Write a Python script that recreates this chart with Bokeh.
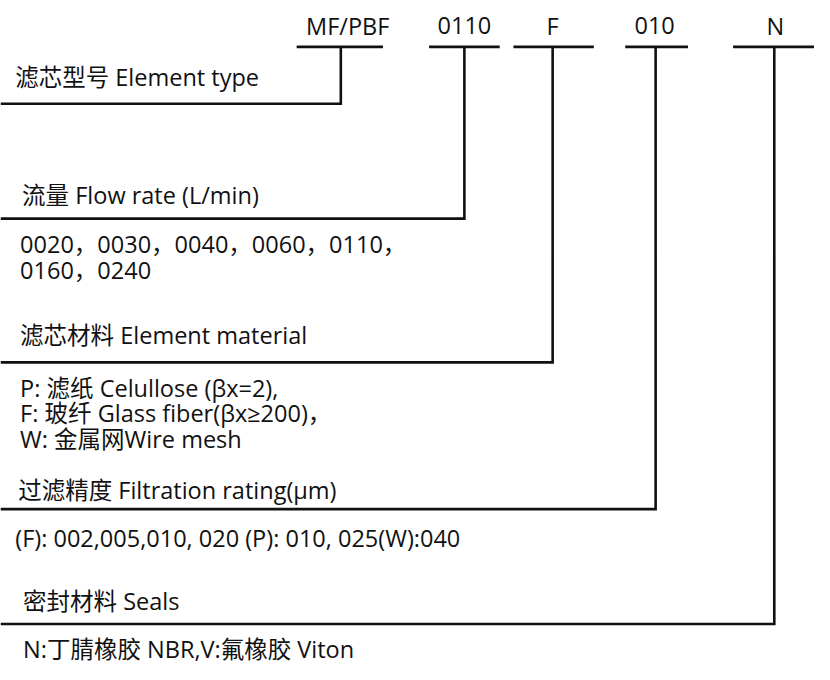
from bokeh.plotting import figure
from bokeh.models import Range1d
from bokeh.core.properties import value
from bokeh.embed import file_html
from bokeh.resources import INLINE

# ---- content ----
codes = ["MF/PBF", "0110", "F", "010", "N"]
labels = ["滤芯型号 Element type",
          "流量 Flow rate (L/min)",
          "滤芯材料 Element material",
          "过滤精度  Filtration rating(μm)",
          "密封材料 Seals"]
option_lines = ["0020，0030，0040，0060，0110，",
                "0160，0240",
                "P: 滤纸 Celullose (βx=2),",
                "F: 玻纤 Glass fiber(βx≥200)，",
                "W: 金属网Wire mesh",
                "(F): 002,005,010, 020 (P): 010, 025(W):040",
                "N:丁腈橡胶 NBR,V:氟橡胶 Viton"]

# ---- layout (reference pixel coordinates) ----
code_x = [354, 473, 563, 667, 790]
code_y = 22
stem_x = [347, 473, 563, 668, 789]
bar_x0 = [302, 437, 523, 637, 747]
bar_x1 = [390, 509, 605, 701, 830]
bar_y = 44
elbow_y = [103, 222, 371, 523, 642]
label_x = [15, 22, 20, 18, 23]
label_y = [75, 198, 343, 503, 618]
opt_x = [20, 20, 20, 20, 20, 15, 23]
opt_y = [248, 275, 397, 423, 450, 553, 668]

W, H = 814, 664
FONT = value("Open Sans, Noto Sans CJK SC")
INK = "#111111"

p = figure(width=W, height=H, output_backend="svg", toolbar_location=None,
           x_range=Range1d(0, 830), y_range=Range1d(684, -4),
           min_border=0, outline_line_color=None)
p.axis.visible = False
p.grid.visible = False
p.background_fill_color = "white"
p.border_fill_color = "white"

# underlines below each code
p.segment(x0=bar_x0, y0=[bar_y] * 5, x1=bar_x1, y1=[bar_y] * 5,
          line_color=INK, line_width=2.6)

# elbow connectors: stem down from underline, then left to the edge
xs = [[sx, sx, 0] for sx in stem_x]
ys = [[bar_y, ey, ey] for ey in elbow_y]
p.multi_line(xs=xs, ys=ys, line_color=INK, line_width=2.6, line_join="miter")

p.text(x=code_x, y=[code_y] * 5, text=codes, text_font=FONT,
       text_font_size="23.5px", text_align="center", text_baseline="middle",
       text_color=INK)
p.text(x=label_x, y=label_y, text=labels, text_font=FONT,
       text_font_size="23.5px", text_align="left", text_baseline="middle",
       text_color=INK)
p.text(x=opt_x, y=opt_y, text=option_lines, text_font=FONT,
       text_font_size="23.5px", text_align="left", text_baseline="middle",
       text_color=INK)

open("out.html", "w").write(file_html(p, INLINE))
